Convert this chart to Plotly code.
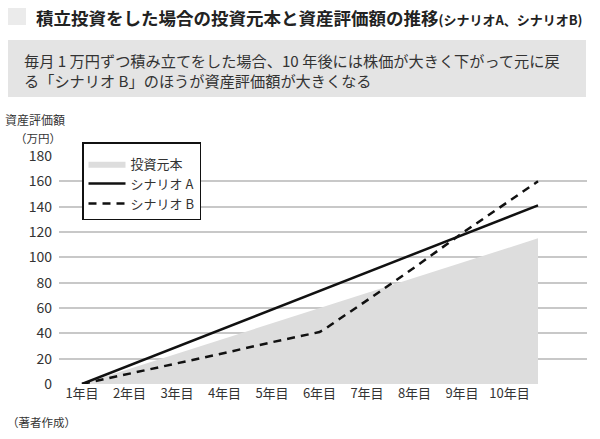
import plotly.graph_objects as go

# ---- data ----
x_labels = ["1年目", "2年目", "3年目", "4年目", "5年目", "6年目", "7年目", "8年目", "9年目", "10年目"]
x_ticks = [1, 2, 3, 4, 5, 6, 7, 8, 9, 10]

principal_x = [1, 10.6]
principal_y = [0, 115]

scenario_a_x = [1, 10.6]
scenario_a_y = [0, 141]

scenario_b_x = [1, 2, 3, 4, 5, 6, 6.12, 6.25, 7, 8, 9, 10.6]
scenario_b_y = [0, 8, 16, 24.5, 33, 41, 43.5, 47, 66, 92, 119, 160]

FONT = "Noto Sans CJK JP"

# plot area in pixels
W, H = 600, 439
L, R, T, B = 59, 587, 156, 384


def px(x):
    return (x - L) / (R - L)


def py(y):
    return (B - y) / (B - T)


fig = go.Figure()
fig.add_trace(go.Scatter(
    x=principal_x, y=principal_y, mode="lines", fill="tozeroy",
    fillcolor="#dddddd", line=dict(color="#dddddd", width=0),
    name="投資元本"))
fig.add_trace(go.Scatter(
    x=scenario_a_x, y=scenario_a_y, mode="lines",
    line=dict(color="#111111", width=2.5), name="シナリオ A"))
fig.add_trace(go.Scatter(
    x=scenario_b_x, y=scenario_b_y, mode="lines",
    line=dict(color="#111111", width=2.5, dash="8px,6px"), name="シナリオ B"))

shapes = [
    # title square
    dict(type="rect", xref="paper", yref="paper", x0=px(8), x1=px(26), y0=py(25), y1=py(8),
         fillcolor="#ebebeb", line=dict(width=0), layer="below"),
    # subtitle box
    dict(type="rect", xref="paper", yref="paper", x0=px(8), x1=px(586), y0=py(97), y1=py(40),
         fillcolor="#e4e4e4", line=dict(width=0), layer="below"),
]

annotations = [
    dict(text="<b>積立投資をした場合の投資元本と資産評価額の推移</b><b><span style='font-size:13px'>(シナリオA、シナリオB)</span></b>",
         x=px(34), y=py(17), xref="paper", yref="paper", xanchor="left", yanchor="middle",
         showarrow=False, font=dict(family=FONT, size=17.5, color="#222222")),
    dict(text="毎月 1 万円ずつ積み立てをした場合、10 年後には株価が大きく下がって元に戻",
         x=px(22), y=py(60), xref="paper", yref="paper", xanchor="left", yanchor="middle",
         align="left", showarrow=False, font=dict(family=FONT, size=15.2, color="#333333")),
    dict(text="る「シナリオ B」のほうが資産評価額が大きくなる",
         x=px(22), y=py(80.5), xref="paper", yref="paper", xanchor="left", yanchor="middle",
         align="left", showarrow=False, font=dict(family=FONT, size=15.2, color="#333333")),
    dict(text="資産評価額", x=px(3), y=py(120), xref="paper", yref="paper", xanchor="left",
         yanchor="middle", showarrow=False, font=dict(family=FONT, size=12, color="#333333")),
    dict(text="（万円）", x=px(63), y=py(138), xref="paper", yref="paper", xanchor="right",
         yanchor="middle", showarrow=False, font=dict(family=FONT, size=11.5, color="#333333")),
    dict(text="（著者作成）", x=px(5), y=py(422), xref="paper", yref="paper", xanchor="left",
         yanchor="middle", showarrow=False, font=dict(family=FONT, size=11.5, color="#333333")),
]

fig.update_layout(
    width=W, height=H,
    margin=dict(l=L, r=W - R, t=T, b=H - B, pad=0),
    paper_bgcolor="white", plot_bgcolor="white",
    font=dict(family=FONT, color="#333333"),
    showlegend=True,
    legend=dict(x=px(82), y=py(142), xanchor="left", yanchor="top",
                bordercolor="#111111", borderwidth=1.5, bgcolor="white",
                font=dict(family=FONT, size=13, color="#333333"),
                title=dict(text=" ", font=dict(size=4)),
                itemwidth=37,
                traceorder="normal", tracegroupgap=0),
    shapes=shapes, annotations=annotations,
    xaxis=dict(range=[1 - 23 / 47.5, 1 + 505 / 47.5], tickvals=x_ticks, ticktext=x_labels,
               showgrid=False, zeroline=False, showline=False, ticks="",
               tickfont=dict(family=FONT, size=13, color="#333333"), fixedrange=True),
    yaxis=dict(range=[0, 180], dtick=20, showgrid=True, gridcolor="#c8c8c8", gridwidth=1.5,
               zeroline=False, showline=False, ticks="", ticklabelstandoff=6,
               tickfont=dict(family=FONT, size=14, color="#333333"), fixedrange=True),
)

fig.write_html("out.html")
